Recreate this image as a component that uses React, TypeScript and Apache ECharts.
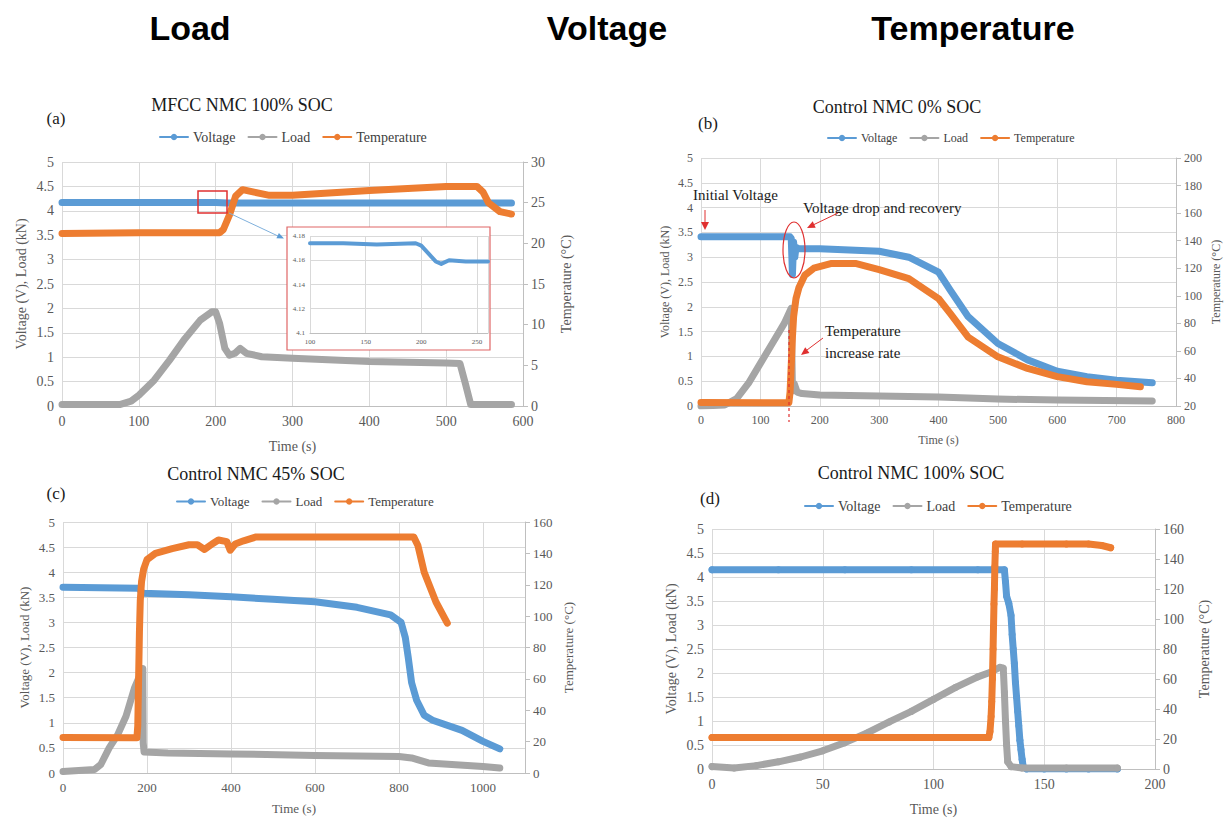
import React, { useEffect, useRef } from 'react';
import * as echarts from 'echarts';

const BLUE = '#5B9BD5';
const GRAY = '#A5A5A5';
const ORANGE = '#ED7D31';
const RED = '#E03030';
const SERIF = 'Liberation Serif, Times New Roman, serif';
const SANS = 'Liberation Sans, Arial, sans-serif';

const seriesNames = ['Voltage', 'Load', 'Temperature'];
const headerLabels = ['Load', 'Voltage', 'Temperature'];
const panelTitles = ['MFCC NMC 100% SOC', 'Control NMC 0% SOC', 'Control NMC 45% SOC', 'Control NMC 100% SOC'];
const panelLetters = ['(a)', '(b)', '(c)', '(d)'];

// (a) MFCC NMC 100% SOC
const aVoltage = [[0, 4.17], [100, 4.17], [200, 4.17], [215, 4.16], [400, 4.16], [585, 4.16]];
const aLoad = [[0, 0.03], [75, 0.03], [90, 0.1], [100, 0.22], [120, 0.53], [140, 0.94], [160, 1.38], [180, 1.76], [195, 1.93], [200, 1.93], [205, 1.7], [212, 1.18], [218, 1.04], [225, 1.08], [232, 1.18], [240, 1.08], [260, 1.01], [300, 0.98], [400, 0.91], [500, 0.88], [518, 0.87], [525, 0.46], [532, 0.03], [585, 0.03]];
const aTemp = [[0, 21.2], [100, 21.3], [205, 21.3], [210, 21.7], [218, 23.5], [226, 25.8], [235, 26.6], [250, 26.3], [270, 25.9], [300, 25.9], [400, 26.5], [500, 27.0], [540, 27.0], [548, 26.3], [555, 25.0], [570, 23.9], [585, 23.6]];
// (a) inset
const insetVoltage = [[100, 4.174], [130, 4.174], [160, 4.173], [195, 4.174], [200, 4.172], [207, 4.165], [213, 4.159], [218, 4.157], [225, 4.16], [240, 4.159], [260, 4.159]];

// (b) Control NMC 0% SOC
const bVoltage = [[0, 3.41], [150, 3.41], [152, 3.38], [154, 2.65], [156, 3.3], [158, 3.0], [160, 3.2], [165, 3.17], [200, 3.17], [300, 3.12], [350, 3.0], [400, 2.7], [420, 2.33], [450, 1.8], [500, 1.26], [550, 0.93], [600, 0.7], [650, 0.59], [700, 0.52], [760, 0.47]];
const bLoad = [[0, 0.0], [40, 0.02], [60, 0.15], [80, 0.46], [100, 0.86], [120, 1.26], [140, 1.66], [152, 1.97], [154, 0.3], [157, 0.45], [162, 0.28], [170, 0.25], [200, 0.22], [300, 0.2], [400, 0.18], [500, 0.14], [600, 0.12], [760, 0.1]];
const bTemp = [[0, 22.5], [148, 22.4], [150, 30], [152, 50], [154, 70], [156, 85], [160, 98], [165, 106], [175, 115], [190, 120], [220, 123.5], [260, 123.5], [300, 119], [350, 112.5], [400, 98], [420, 87], [450, 70], [500, 55.7], [550, 47.3], [600, 41.3], [650, 37.6], [700, 35.7], [740, 34]];

// (c) Control NMC 45% SOC
const cVoltage = [[0, 3.7], [180, 3.68], [190, 3.58], [300, 3.55], [400, 3.51], [500, 3.46], [600, 3.41], [700, 3.3], [780, 3.15], [805, 3.0], [815, 2.7], [822, 2.3], [830, 1.8], [842, 1.45], [860, 1.15], [880, 1.05], [950, 0.85], [1000, 0.63], [1040, 0.48]];
const cLoad = [[0, 0.03], [75, 0.07], [90, 0.17], [110, 0.5], [130, 0.76], [150, 1.13], [170, 1.69], [190, 2.08], [191, 0.6], [193, 0.42], [250, 0.4], [400, 0.38], [600, 0.35], [800, 0.33], [830, 0.3], [870, 0.2], [1000, 0.13], [1040, 0.1]];
const cTemp = [[0, 22.7], [176, 22.5], [178, 30], [179, 45], [180, 60], [182, 90], [184, 110], [187, 122], [192, 130], [200, 136], [220, 140], [260, 143], [300, 145.5], [320, 145.5], [337, 142.5], [355, 146], [370, 148.5], [390, 147.5], [398, 142], [410, 146], [430, 148], [460, 150.5], [835, 150.5], [845, 145], [860, 128], [888, 109], [915, 95.5]];

// (d) Control NMC 100% SOC
const dVoltage = [[0, 4.15], [30, 4.15], [60, 4.15], [90, 4.15], [120, 4.15], [132, 4.15], [132.5, 3.9], [133, 3.6], [134, 3.45], [135, 3.2], [135.5, 2.8], [136, 2.5], [136.5, 2.2], [137, 1.8], [137.5, 1.5], [138, 1.2], [138.5, 0.9], [139, 0.6], [139.5, 0.4], [140, 0.2], [140.5, 0.05], [142, 0.0], [150, 0.0], [160, 0.0], [170, 0.0], [183, 0.0]];
const dLoad = [[0, 0.05], [10, 0.02], [20, 0.07], [30, 0.15], [40, 0.25], [50, 0.38], [60, 0.55], [70, 0.75], [80, 0.98], [90, 1.2], [100, 1.45], [110, 1.7], [120, 1.92], [126, 2.02], [130, 2.12], [131.5, 2.1], [132, 1.6], [132.5, 1.0], [133, 0.5], [133.5, 0.15], [135, 0.05], [140, 0.02], [160, 0.02], [183, 0.02]];
const dTemp = [[0, 21], [30, 21], [60, 21], [90, 21], [125, 21], [125.5, 25], [126, 35], [126.3, 45], [126.6, 60], [126.9, 80], [127.1, 95], [127.3, 110], [127.5, 120], [127.7, 135], [127.9, 145], [128, 150], [140, 150], [160, 150], [170, 150], [176, 149], [180, 147.5]];

const panelData = [
  [aVoltage, aLoad, aTemp],
  [bVoltage, bLoad, bTemp],
  [cVoltage, cLoad, cTemp],
  [dVoltage, dLoad, dTemp],
];

const layouts = [
  { grid: { left: 62, top: 162, width: 461, height: 244 }, xMax: 600, xInt: 100, rMin: 0, rMax: 30, rInt: 5, fs: 14, legend: { left: 154, top: 125, fs: 14 }, gaps: [34, 36, 33], title: [242, 105], letter: [56, 118], sym: false },
  { grid: { left: 701, top: 158, width: 475, height: 248 }, xMax: 800, xInt: 100, rMin: 20, rMax: 200, rInt: 20, fs: 12, legend: { left: 822, top: 127, fs: 12 }, gaps: [30, 34, 28], title: [897, 107], letter: [708, 123], sym: false },
  { grid: { left: 63, top: 522, width: 462, height: 251 }, xMax: 1100, xInt: 200, rMin: 0, rMax: 160, rInt: 20, fs: 13, legend: { left: 171, top: 490, fs: 13 }, gaps: [32, 37, 29], title: [256, 474], letter: [56, 493], sym: false },
  { grid: { left: 712, top: 529, width: 443, height: 240 }, xMax: 200, xInt: 50, rMin: 0, rMax: 160, rInt: 20, fs: 14, legend: { left: 799, top: 494, fs: 14 }, gaps: [34, 42, 33], title: [911, 473], letter: [710, 498], sym: true },
];

const colors = [BLUE, GRAY, ORANGE];
const plain = (v: number) => String(v);

function buildOption() {
  const grid: any[] = [];
  const xAxis: any[] = [];
  const yAxis: any[] = [];
  const series: any[] = [];
  const legend: any[] = [];
  const graphic: any[] = [];
  const axisLabelColor = '#595959';

  layouts.forEach((L, i) => {
    grid.push({ ...L.grid, containLabel: false });
    xAxis.push({
      type: 'value', gridIndex: i, min: 0, max: L.xMax, interval: L.xInt,
      name: 'Time (s)', nameLocation: 'middle', nameGap: L.gaps[2],
      nameTextStyle: { fontFamily: SERIF, fontSize: L.fs, color: axisLabelColor },
      axisLine: { show: true, lineStyle: { color: '#BFBFBF' } },
      axisTick: { show: false },
      axisLabel: { fontFamily: SERIF, fontSize: L.fs, color: axisLabelColor, showMaxLabel: L.xMax % L.xInt === 0, formatter: plain },
      splitLine: { show: true, lineStyle: { color: '#D9D9D9' } },
    });
    yAxis.push({
      type: 'value', gridIndex: i, min: 0, max: 5, interval: 0.5, position: 'left',
      name: 'Voltage (V), Load (kN)', nameLocation: 'middle', nameGap: L.gaps[0], nameRotate: 90,
      nameTextStyle: { fontFamily: SERIF, fontSize: L.fs, color: axisLabelColor },
      axisLine: { show: false }, axisTick: { show: false },
      axisLabel: { fontFamily: SERIF, fontSize: L.fs, color: axisLabelColor },
      splitLine: { show: true, lineStyle: { color: '#D9D9D9' } },
    });
    yAxis.push({
      type: 'value', gridIndex: i, min: L.rMin, max: L.rMax, interval: L.rInt, position: 'right',
      name: 'Temperature (°C)', nameLocation: 'middle', nameGap: L.gaps[1], nameRotate: 90,
      nameTextStyle: { fontFamily: SERIF, fontSize: L.fs, color: axisLabelColor },
      axisLine: { show: true, lineStyle: { color: '#BFBFBF' } },
      axisTick: { show: true, length: 5, lineStyle: { color: '#BFBFBF' } },
      axisLabel: { fontFamily: SERIF, fontSize: L.fs, color: axisLabelColor },
      splitLine: { show: false },
    });
    panelData[i].forEach((d, k) => {
      series.push({
        type: 'line', name: seriesNames[k], xAxisIndex: i, yAxisIndex: k === 2 ? 2 * i + 1 : 2 * i,
        data: d, showSymbol: L.sym, symbol: 'circle', symbolSize: 7,
        lineStyle: { width: 7, color: colors[k], cap: 'round', join: 'round' },
        itemStyle: { color: colors[k] }, z: 2 + k,
      });
    });
    legend.push({
      data: seriesNames, left: L.legend.left, top: L.legend.top, selectedMode: false,
      itemWidth: 28, itemHeight: 8, itemGap: 12,
      textStyle: { fontFamily: SERIF, fontSize: L.legend.fs, color: '#404040' },
      lineStyle: { width: 2 },
    });
    graphic.push({ type: 'text', x: L.title[0], y: L.title[1], style: { text: panelTitles[i], fontFamily: SERIF, fontSize: 18, fill: '#1a1a1a', align: 'center', verticalAlign: 'middle', textAlign: 'center', textVerticalAlign: 'middle' } });
    graphic.push({ type: 'text', x: L.letter[0], y: L.letter[1], style: { text: panelLetters[i], fontFamily: SERIF, fontSize: 17, fill: '#1a1a1a', align: 'center', verticalAlign: 'middle', textAlign: 'center', textVerticalAlign: 'middle' } });
  });

  // inset of (a)
  grid.push({ left: 310, top: 236, width: 178, height: 97 });
  xAxis.push({
    type: 'value', gridIndex: 4, min: 100, max: 260, interval: 50, z: 3,
    axisLine: { show: true, lineStyle: { color: '#BFBFBF' } }, axisTick: { show: false },
    axisLabel: { fontFamily: SERIF, fontSize: 7, color: axisLabelColor, showMaxLabel: false, margin: 5 },
    splitLine: { show: true, lineStyle: { color: '#D9D9D9' } },
  });
  yAxis.push({
    type: 'value', gridIndex: 4, min: 4.1, max: 4.18, interval: 0.02, z: 3,
    axisLine: { show: false }, axisTick: { show: false },
    axisLabel: { fontFamily: SERIF, fontSize: 7, color: axisLabelColor, margin: 5 },
    splitLine: { show: true, lineStyle: { color: '#D9D9D9' } },
  });
  series.push({
    type: 'line', name: 'inset', xAxisIndex: 4, yAxisIndex: 8, data: insetVoltage, showSymbol: false,
    lineStyle: { width: 4, color: BLUE, cap: 'round', join: 'round' }, itemStyle: { color: BLUE }, z: 5,
  });
  graphic.push({ type: 'rect', z: 1, shape: { x: 287, y: 227, width: 203, height: 123 }, style: { fill: '#ffffff', stroke: '#E06666', lineWidth: 1.2 } });
  graphic.push({ type: 'rect', z: 6, shape: { x: 198, y: 191, width: 29, height: 22 }, style: { fill: 'none', stroke: '#E03030', lineWidth: 1.5 } });
  graphic.push({ type: 'line', z: 6, shape: { x1: 229, y1: 213, x2: 278, y2: 236 }, style: { stroke: '#7FB0DC', lineWidth: 1 } });
  graphic.push({ type: 'polygon', z: 6, shape: { points: [[284, 238.5], [276.4, 238.3], [278.9, 232.9]] }, style: { fill: '#5B9BD5' } });

  // header
  [[190, 28], [607, 28], [973, 28]].forEach((p, i) => {
    graphic.push({ type: 'text', x: p[0], y: p[1], style: { text: headerLabels[i], fontFamily: SANS, fontWeight: 'bold', fontSize: 34, fill: '#000', align: 'center', verticalAlign: 'middle', textAlign: 'center', textVerticalAlign: 'middle' } });
  });

  // annotations in (b)
  const annStyle = { fontFamily: SERIF, fontSize: 15, fill: '#1a1a1a', align: 'left', verticalAlign: 'middle', textAlign: 'left', textVerticalAlign: 'middle' };
  graphic.push({ type: 'text', z: 10, x: 693, y: 195, style: { ...annStyle, text: 'Initial Voltage' } });
  graphic.push({ type: 'text', z: 10, x: 803, y: 208, style: { ...annStyle, text: 'Voltage drop and recovery' } });
  graphic.push({ type: 'text', z: 10, x: 825, y: 331, style: { ...annStyle, text: 'Temperature' } });
  graphic.push({ type: 'text', z: 10, x: 825, y: 353, style: { ...annStyle, text: 'increase rate' } });
  graphic.push({ type: 'line', z: 10, shape: { x1: 705, y1: 210, x2: 705, y2: 223 }, style: { stroke: RED, lineWidth: 1 } });
  graphic.push({ type: 'polygon', z: 10, shape: { points: [[701, 222], [709, 222], [705, 230]] }, style: { fill: RED } });
  graphic.push({ type: 'line', z: 10, shape: { x1: 838, y1: 213, x2: 813, y2: 225 }, style: { stroke: RED, lineWidth: 1 } });
  graphic.push({ type: 'polygon', z: 10, shape: { points: [[807, 228], [815.7, 227.7], [812.7, 221.3]] }, style: { fill: RED } });
  graphic.push({ type: 'line', z: 10, shape: { x1: 823, y1: 338, x2: 807, y2: 350 }, style: { stroke: RED, lineWidth: 1 } });
  graphic.push({ type: 'polygon', z: 10, shape: { points: [[801, 355], [809.4, 352.9], [805.2, 347.3]] }, style: { fill: RED } });
  graphic.push({ type: 'ellipse', z: 10, shape: { cx: 794, cy: 250, rx: 11, ry: 28 }, style: { fill: 'none', stroke: RED, lineWidth: 1.2 } });
  graphic.push({ type: 'line', z: 10, shape: { x1: 789, y1: 330, x2: 789, y2: 422 }, style: { stroke: RED, lineWidth: 1.2, lineDash: [3, 3] } });

  return { animation: false, backgroundColor: '#ffffff', textStyle: { fontFamily: SERIF }, grid, xAxis, yAxis, series, legend, graphic };
}

export default function App() {
  const ref = useRef<HTMLDivElement>(null);
  useEffect(() => {
    document.body.style.margin = '0';
    const chart = echarts.init(ref.current!, undefined, { renderer: 'svg' });
    chart.setOption(buildOption() as any);
    return () => chart.dispose();
  }, []);
  return <div ref={ref} style={{ width: 1228, height: 818 }} />;
}
